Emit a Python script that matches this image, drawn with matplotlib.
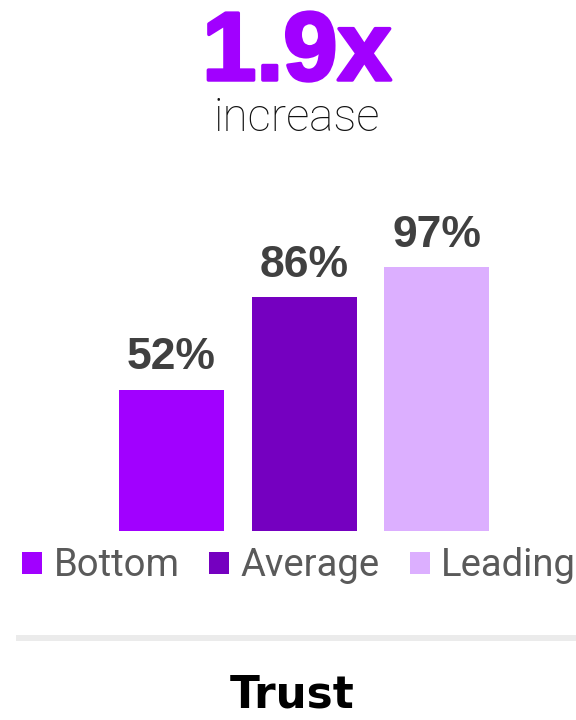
import matplotlib
matplotlib.use("Agg")
import matplotlib.pyplot as plt
from matplotlib.patches import Patch
from matplotlib.lines import Line2D
import matplotlib.patheffects as pe

# Data
categories = ["Bottom", "Average", "Leading"]
values = [52, 86, 97]
value_labels = ["52%", "86%", "97%"]
colors = ["#A100FF", "#7500C0", "#DCAFFF"]
headline = "1.9x"
subhead = "increase"
metric = "Trust"

fig = plt.figure(figsize=(5.76, 7.2), dpi=100)
fig.patch.set_facecolor("white")

W, H = 576.0, 720.0
base_px = 531.0
top_px = 180.0
px_per_unit = 2.72
spacing = 132.5
c0 = 171.5

ax = fig.add_axes([0, 1 - base_px / H, 1, (base_px - top_px) / H])
x = list(range(len(values)))
ax.bar(x, values, width=105 / spacing, color=colors, edgecolor="none")
ax.set_xlim(-c0 / spacing, (W - c0) / spacing)
ax.set_ylim(0, (base_px - top_px) / px_per_unit)
ax.axis("off")

for xi, v, lab in zip(x, values, value_labels):
    ax.annotate(lab, (xi, v), xytext=(0, 14.5), textcoords="offset points",
                ha="center", va="baseline", fontsize=32, fontweight="bold",
                family="Liberation Sans", color="#404040")

# headline
fig.text(297 / W, 1 - 80 / H, headline, ha="center", va="baseline",
         fontsize=70, fontweight="bold", family="Liberation Sans", color="#A100FF",
         path_effects=[pe.withStroke(linewidth=2.5, foreground="#A100FF")])
fig.text(296.7 / W, 1 - 131 / H, subhead, ha="center", va="baseline",
         fontsize=33, fontweight="light", family="Roboto", color="#111111")

# legend
handles = [Patch(facecolor=c, edgecolor="none") for c in colors]
fs = 27.5
em = fs * 100 / 72
leg = fig.legend(handles, categories, loc="center", bbox_to_anchor=(299 / W, 1 - 566 / H),
                 ncol=3, frameon=False, prop={"family": "Roboto", "size": fs},
                 handlelength=20 / em, handleheight=20 / em, handletextpad=11 / em,
                 columnspacing=30 / em, borderpad=0, borderaxespad=0)
for t in leg.get_texts():
    t.set_color("#5a5a5a")

# separator line
fig.add_artist(Line2D([16 / W, 1.0], [1 - 638 / H, 1 - 638 / H], transform=fig.transFigure,
                      color="#EBEBEB", linewidth=6 * 72 / 100, solid_capstyle="butt"))

fig.text(292 / W, 1 - 707 / H, metric, ha="center", va="baseline",
         fontsize=31.5, fontweight="bold", family="DejaVu Sans", color="black")

fig.savefig("out.png", dpi=100, facecolor="white")
